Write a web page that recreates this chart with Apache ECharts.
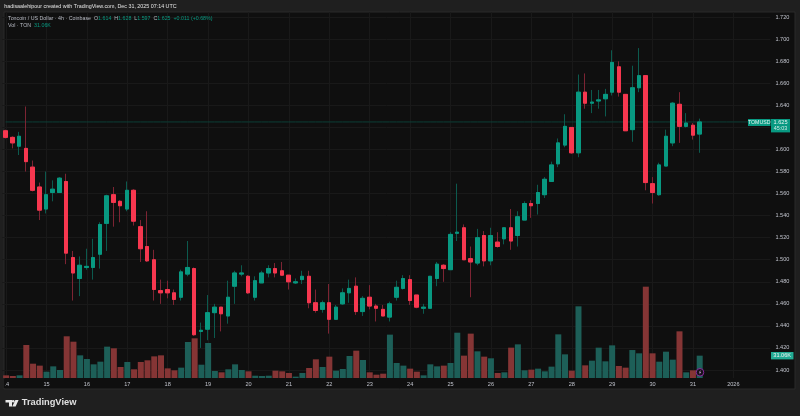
<!DOCTYPE html>
<html>
<head>
<meta charset="utf-8">
<title>TONUSD 4h</title>
<script src="https://cdn.jsdelivr.net/npm/echarts@6/dist/echarts.min.js"></script>
<style>
html, body { margin: 0; padding: 0; background: #1f1f1f; }
#chart { width: 800px; height: 416px; }
</style>
</head>
<body>
<div id="chart"></div>
<script>
//day labels, one every 6 candles (4h bars)
var dayTicks = ['14','15','16','17','18','19','20','21','22','23','24','25','26','27','28','29','30','31','2026'];
var priceMin = 1.40, priceMax = 1.72, priceStep = 0.02;

var opens = [
1.617,1.611,1.603,1.601,1.584,1.566,1.546,1.561,1.561,1.571,
1.502,1.483,1.493,1.493,1.505,1.533,1.559,1.553,1.546,1.563,
1.530,1.512,1.500,1.472,1.473,1.470,1.466,1.487,1.492,1.435,
1.437,1.452,1.457,1.449,1.476,1.487,1.485,1.466,1.479,1.488,
1.492,1.490,1.486,1.479,1.482,1.485,1.461,1.455,1.461,1.446,
1.460,1.470,1.476,1.453,1.466,1.458,1.455,1.448,1.466,1.474,
1.482,1.468,1.456,1.456,1.483,1.495,1.491,1.524,1.529,1.501,
1.497,1.522,1.499,1.516,1.519,1.529,1.522,1.536,1.551,1.551,
1.559,1.571,1.587,1.604,1.620,1.597,1.652,1.642,1.644,1.646,
1.652,1.675,1.650,1.618,1.656,1.667,1.569,1.559,1.585,1.606,
1.641,1.621,1.622,1.614];
var closes = [
1.611,1.606,1.612,1.589,1.563,1.545,1.559,1.564,1.574,1.506,
1.488,1.495,1.494,1.502,1.532,1.558,1.552,1.549,1.563,1.535,
1.510,1.499,1.473,1.470,1.470,1.464,1.489,1.493,1.432,1.436,
1.452,1.457,1.451,1.466,1.488,1.488,1.470,1.481,1.488,1.492,
1.488,1.486,1.480,1.480,1.485,1.461,1.454,1.461,1.446,1.457,
1.470,1.474,1.453,1.465,1.458,1.456,1.449,1.460,1.475,1.483,
1.463,1.457,1.457,1.485,1.496,1.492,1.523,1.525,1.500,1.498,
1.520,1.499,1.522,1.512,1.529,1.517,1.539,1.551,1.549,1.561,
1.573,1.586,1.606,1.621,1.597,1.652,1.642,1.643,1.645,1.650,
1.679,1.652,1.617,1.656,1.667,1.570,1.561,1.586,1.612,1.642,
1.621,1.624,1.613,1.625];
var lows = [
1.610,1.601,1.595,1.580,1.562,1.536,1.542,1.553,1.561,1.496,
1.463,1.467,1.491,1.482,1.492,1.508,1.530,1.534,1.544,1.531,
1.498,1.498,1.463,1.460,1.465,1.459,1.463,1.485,1.431,1.420,
1.427,1.429,1.435,1.442,1.460,1.485,1.469,1.463,1.479,1.484,
1.484,1.486,1.473,1.478,1.478,1.456,1.452,1.452,1.433,1.446,
1.459,1.461,1.450,1.449,1.455,1.444,1.449,1.444,1.463,1.473,
1.459,1.456,1.451,1.456,1.476,1.480,1.491,1.517,1.500,1.466,
1.495,1.494,1.495,1.511,1.514,1.509,1.512,1.536,1.538,1.541,
1.556,1.571,1.584,1.602,1.596,1.593,1.637,1.633,1.637,1.630,
1.649,1.648,1.617,1.607,1.652,1.563,1.551,1.558,1.585,1.603,
1.606,1.620,1.609,1.597];
var highs = [
1.618,1.612,1.616,1.639,1.590,1.570,1.580,1.572,1.575,1.578,
1.508,1.503,1.510,1.519,1.534,1.559,1.566,1.554,1.571,1.564,
1.536,1.544,1.509,1.482,1.481,1.473,1.491,1.517,1.493,1.443,
1.468,1.460,1.457,1.481,1.490,1.495,1.486,1.485,1.490,1.495,
1.497,1.498,1.486,1.483,1.490,1.490,1.473,1.463,1.478,1.459,
1.474,1.482,1.484,1.467,1.477,1.460,1.459,1.462,1.481,1.486,
1.486,1.468,1.460,1.485,1.498,1.496,1.525,1.569,1.532,1.512,
1.528,1.526,1.529,1.525,1.529,1.546,1.544,1.553,1.554,1.568,
1.575,1.589,1.610,1.632,1.620,1.668,1.669,1.654,1.654,1.655,
1.690,1.680,1.650,1.676,1.692,1.667,1.575,1.588,1.618,1.643,
1.652,1.633,1.624,1.628];
//volume in thousands of TON
var volumes = [
3.7,2.8,3.7,45.9,19.9,17.2,8.8,16.2,11.1,58.0,
50.5,31.5,26.4,19.0,22.7,43.6,41.3,15.3,22.3,12.1,
22.3,24.6,30.1,31.5,13.4,10.7,14.4,50.1,55.2,18.5,
48.7,9.7,7.9,12.1,19.0,11.1,9.3,3.2,2.8,3.2,
10.2,9.3,7.0,1.9,7.0,13.9,26.0,15.3,29.7,10.2,
12.5,30.6,38.0,25.0,7.9,4.6,6.0,60.3,20.9,17.2,
13.0,8.8,3.7,19.0,16.2,17.2,20.9,63.0,31.1,61.7,
37.1,29.7,27.4,7.0,7.9,42.2,46.8,10.7,11.6,13.0,
9.3,15.8,60.7,32.9,10.2,99.7,17.6,24.1,42.2,23.2,
45.4,16.7,14.4,38.9,34.3,127.0,34.3,22.7,36.6,25.5,
64.9,7.9,10.7,31.06];

var upColor = '#089981', downColor = '#f7374f';
var upWick = '#0c5a4e', downWick = '#7d2433';
var lastPrice = 1.625;

//category slots, chart runs on past the last bar up to the price scale
var categories = [];
for (var d = 0; d < dayTicks.length; d++) {
    for (var s = 0; s < 6; s++) {
        categories.push(s == 0 ? dayTicks[d] : '');
    }
}

var wickData = [], bodyData = [], volumeData = [], lastLine = [];
for (var i = 0; i < opens.length; i++) {
    wickData.push([opens[i], closes[i], lows[i], highs[i]]);
    //second series on top draws only the body so the wicks stay dim
    bodyData.push([opens[i], closes[i], Math.min(opens[i], closes[i]), Math.max(opens[i], closes[i])]);
    volumeData.push({
        value: volumes[i],
        itemStyle: { color: closes[i] > opens[i] ? '#1d5f58' : '#853535' }
    });
}
for (var c = 0; c < categories.length; c++) {
    lastLine.push(lastPrice);
}

function everySix(index) { return index % 6 == 0; }

var uiFont = '"Liberation Sans", Arial, sans-serif';
var gridColor = '#191919';
var gridLeft = 2.2, gridRight = 29.6;

var legendRich = {
    g: { fill: '#b8bbc4', fontSize: 5.3, fontFamily: uiFont },
    v: { fill: upColor, fontSize: 5.3, fontFamily: uiFont }
};

var myChart = echarts.init(document.getElementById('chart'), null, { renderer: 'canvas' });
var option = {
    animation: false,
    backgroundColor: '#1f1f1f',
    grid: [
        { left: gridLeft, right: gridRight, top: 12, bottom: 38 },
        { left: gridLeft, right: gridRight, top: 17.2, bottom: 46 }
    ],
    xAxis: [
        {
            type: 'category', gridIndex: 0, data: categories,
            axisLine: { show: false }, axisTick: { show: false },
            splitLine: { show: true, alignWithLabel: true, interval: everySix, lineStyle: { color: gridColor, width: 1 } },
            axisLabel: {
                interval: everySix, color: '#c0c3cc', fontSize: 5.6, fontFamily: uiFont, margin: 3,
                hideOverlap: false
            }
        },
        {
            type: 'category', gridIndex: 1, data: categories,
            axisLine: { show: false }, axisTick: { show: false },
            axisLabel: { show: false }, splitLine: { show: false }
        }
    ],
    yAxis: [
        { //volume, hidden, spans the whole panel height
            type: 'value', gridIndex: 0, min: 0, max: 509, show: false, splitLine: { show: false }
        },
        {
            type: 'value', gridIndex: 1, position: 'right',
            min: priceMin, max: priceMax, interval: priceStep,
            axisLine: { show: false }, axisTick: { show: false },
            splitLine: { show: true, lineStyle: { color: gridColor, width: 1 } },
            axisLabel: {
                color: '#c0c3cc', fontSize: 5.6, fontFamily: uiFont, margin: 5,
                formatter: function (v) { return v.toFixed(3); }
            }
        }
    ],
    series: [
        {
            type: 'bar', xAxisIndex: 0, yAxisIndex: 0, data: volumeData,
            barWidth: 6, z: 1
        },
        {
            type: 'line', xAxisIndex: 1, yAxisIndex: 1, data: lastLine,
            showSymbol: false, silent: true, z: 2,
            lineStyle: { color: '#0c3f37', width: 1 }
        },
        {
            type: 'candlestick', xAxisIndex: 1, yAxisIndex: 1, data: wickData,
            barWidth: 4, z: 3,
            itemStyle: {
                color: upWick, color0: downWick,
                borderColor: upWick, borderColor0: downWick, borderWidth: 1
            }
        },
        {
            type: 'candlestick', xAxisIndex: 1, yAxisIndex: 1, data: bodyData,
            barWidth: 4, z: 4,
            itemStyle: {
                color: upColor, color0: downColor,
                borderColor: upColor, borderColor0: downColor, borderWidth: 1
            }
        }
    ],
    graphic: [
        //panel
        { type: 'rect', z: -10, shape: { x: 4, y: 12, width: 791, height: 377 }, style: { fill: '#0f0f0f', stroke: '#2a2a2a', lineWidth: 1 } },
        //first day label is cut by the panel edge
        { type: 'rect', z: 40, shape: { x: 0, y: 379, width: 4, height: 9 }, style: { fill: '#1f1f1f' } },
        { type: 'rect', z: 40, shape: { x: 4, y: 379, width: 1.4, height: 9 }, style: { fill: '#0f0f0f' } },
        //header
        { type: 'text', z: 50, x: 4.3, y: 4, style: { text: 'hadisaalehipour created with TradingView.com, Dec 31, 2025 07:14 UTC', fill: '#e4e4e4', fontSize: 5.35, fontFamily: uiFont } },
        //legend
        {
            type: 'text', z: 50, x: 8, y: 15.8, style: {
                text: '{g|Toncoin / US Dollar · 4h · Coinbase  O}{v|1.614}{g|  H}{v|1.628}{g|  L}{v|1.597}{g|  C}{v|1.625}{v|  +0.011 (+0.68%)}',
                rich: legendRich
            }
        },
        {
            type: 'text', z: 50, x: 8, y: 22.8, style: {
                text: '{g|Vol · TON}{v|  31.06K}',
                rich: legendRich
            }
        },
        //price tags
        { type: 'rect', z: 50, shape: { x: 748, y: 119, width: 22.5, height: 7 }, style: { fill: upColor } },
        { type: 'text', z: 51, x: 759.2, y: 122.6, style: { text: 'TOMUSD', fill: '#e6f5f2', fontSize: 5.2, fontFamily: uiFont, align: 'center', verticalAlign: 'middle' } },
        { type: 'rect', z: 50, shape: { x: 771, y: 119, width: 19, height: 13.4 }, style: { fill: upColor } },
        { type: 'text', z: 51, x: 780.5, y: 122.6, style: { text: '1.625', fill: '#e6f5f2', fontSize: 5.6, fontFamily: uiFont, align: 'center', verticalAlign: 'middle' } },
        { type: 'text', z: 51, x: 780.5, y: 128.6, style: { text: '45:03', fill: '#cfe9e4', fontSize: 5.4, fontFamily: uiFont, align: 'center', verticalAlign: 'middle' } },
        { type: 'rect', z: 50, shape: { x: 771, y: 352, width: 22.5, height: 7.4 }, style: { fill: '#22ab94' } },
        { type: 'text', z: 51, x: 782.2, y: 355.8, style: { text: '31.06K', fill: '#f2f2f2', fontSize: 5.6, fontFamily: uiFont, align: 'center', verticalAlign: 'middle' } },
        //alert marker on last bar
        { type: 'circle', z: 52, shape: { cx: 700, cy: 372.3, r: 3.8 }, style: { fill: '#171019', stroke: '#8a2a9e', lineWidth: 1 } },
        { type: 'polygon', z: 53, shape: { points: [[700.6, 370], [698.9, 372.6], [699.9, 372.6], [699.4, 374.6], [701.2, 371.9], [700.2, 371.9]] }, style: { fill: '#c9a0d4' } },
        //logo
        { type: 'polygon', z: 50, shape: { points: [[5.5, 400], [12, 400], [12, 406.6], [9, 406.6], [9, 402.6], [5.5, 402.6]] }, style: { fill: '#e8e8e8' } },
        { type: 'circle', z: 50, shape: { cx: 13.2, cy: 401.3, r: 1.3 }, style: { fill: '#e8e8e8' } },
        { type: 'polygon', z: 50, shape: { points: [[15.4, 400], [18.6, 400], [15.6, 406.6], [12.2, 406.6]] }, style: { fill: '#e8e8e8' } },
        { type: 'text', z: 50, x: 21.8, y: 398, style: { text: 'TradingView', fill: '#e0e0e0', fontSize: 9.3, fontWeight: 'bold', fontFamily: uiFont } }
    ]
};
myChart.setOption(option);
</script>
</body>
</html>
